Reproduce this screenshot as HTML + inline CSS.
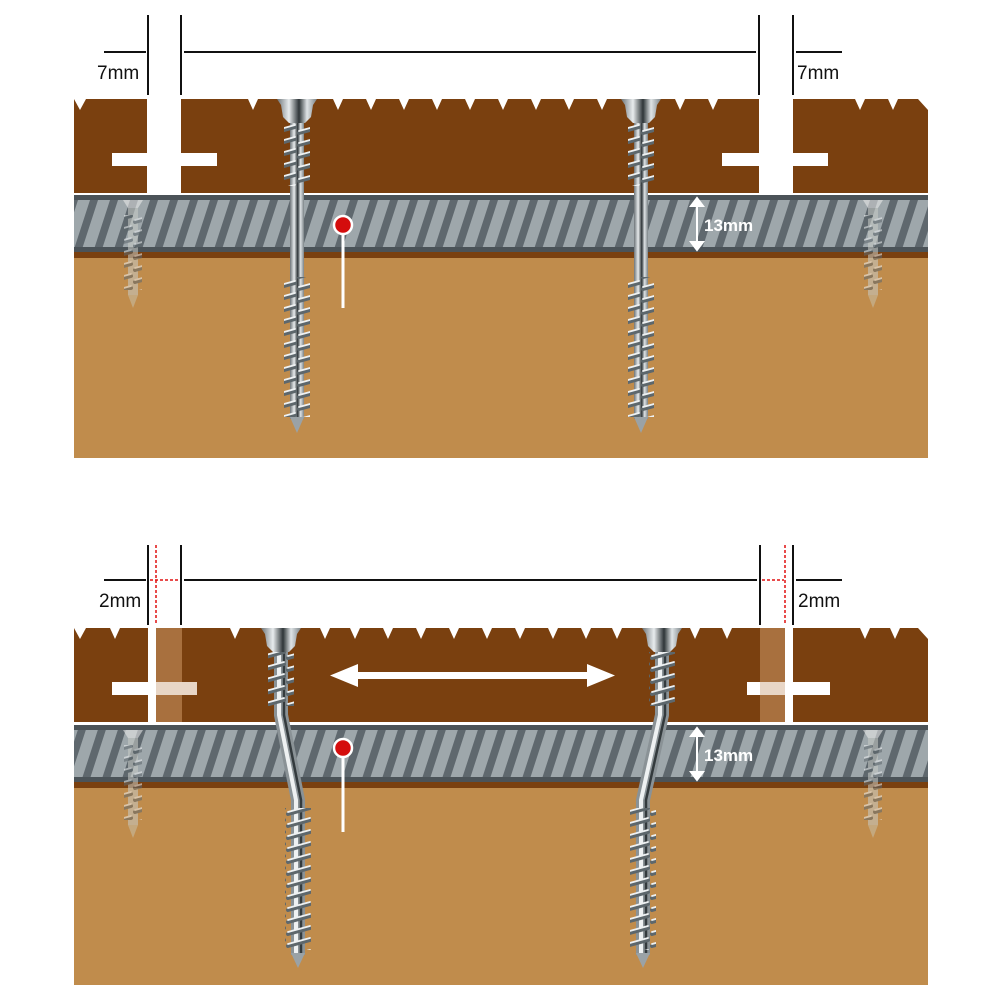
<!DOCTYPE html>
<html><head><meta charset="utf-8"><style>html,body{margin:0;padding:0;background:#fff}svg{display:block}</style></head><body>
<svg width="1000" height="1000" viewBox="0 0 1000 1000" xmlns="http://www.w3.org/2000/svg" font-family="Liberation Sans, sans-serif">
<defs>
<pattern id="str" width="20" height="60" patternUnits="userSpaceOnUse" patternTransform="skewX(-18)">
<rect width="20" height="60" fill="#5f686e"/><rect x="3" width="12" height="60" fill="#9ea7ab"/>
</pattern>
<linearGradient id="sil" x1="0" x2="1" y1="0" y2="0">
<stop offset="0" stop-color="#6d7478"/><stop offset=".3" stop-color="#e8ecee"/><stop offset=".55" stop-color="#2e3538"/><stop offset=".75" stop-color="#dfe4e6"/><stop offset="1" stop-color="#7b8387"/>
</linearGradient>
<pattern id="thr" width="26" height="12" patternUnits="userSpaceOnUse">
<path d="M2 10 L24 4" stroke="#5d676c" stroke-width="4" stroke-linecap="round"/><path d="M2 8 L24 2" stroke="#eef1f2" stroke-width="1.8" stroke-linecap="round"/>
</pattern>
<g id="screwS">
<rect x="-7" y="20" width="14" height="300" fill="url(#sil)"/>
<rect x="-13" y="25" width="26" height="62" fill="url(#thr)"/>
<rect x="-13" y="178" width="26" height="140" fill="url(#thr)"/>
<path d="M-7 318 L7 318 L0 334 Z" fill="#9aa2a6"/>
<path d="M-20 0 H20 L16 6 L14 18 L8 24 H-8 L-14 18 L-16 6 Z" fill="url(#sil)"/>
</g>
<g id="small" opacity="0.55">
<rect x="-5" y="0" width="10" height="95" fill="#c9ccc8"/>
<rect x="-9" y="15" width="18" height="75" fill="url(#thr)"/>
<path d="M-10 0 H10 L5 8 H-5Z" fill="#eee"/>
<path d="M-5 95 H5 L0 108Z" fill="#c9c0a8"/>
</g>
</defs>

<!-- TOP PANEL -->
<rect x="74" y="258" width="854" height="200" fill="#c08c4c"/>
<rect x="74" y="252" width="854" height="6" fill="#7a400f"/>
<rect x="74" y="195" width="854" height="57" fill="#4b5358"/>
<rect x="74" y="200" width="854" height="47" fill="url(#str)"/>
<rect x="74" y="99" width="854" height="94" fill="#7a400f"/>
<rect x="147" y="99" width="34" height="94" fill="#fff"/>
<rect x="759" y="99" width="34" height="94" fill="#fff"/>
<rect x="112" y="153" width="105" height="13" fill="#fff"/>
<rect x="722" y="153" width="106" height="13" fill="#fff"/>
<g fill="#fff">
<path d="M74 99 H86 L80 110Z"/><path d="M248 99 H258 L253 110Z"/>
<path d="M333 99 H343 L338 110Z"/><path d="M366 99 H376 L371 110Z"/><path d="M399 99 H409 L404 110Z"/><path d="M432 99 H442 L437 110Z"/><path d="M465 99 H475 L470 110Z"/><path d="M498 99 H508 L503 110Z"/><path d="M531 99 H541 L536 110Z"/><path d="M564 99 H574 L569 110Z"/><path d="M597 99 H607 L602 110Z"/><path d="M675 99 H685 L680 110Z"/><path d="M708 99 H718 L713 110Z"/><path d="M855 99 H865 L860 110Z"/><path d="M888 99 H898 L893 110Z"/><path d="M918 99 H928 V110Z"/>
</g>
<use href="#small" x="133" y="200"/>
<use href="#small" x="873" y="200"/>
<use href="#screwS" x="297" y="99"/>
<use href="#screwS" x="641" y="99"/>
<line x1="343" y1="225" x2="343" y2="308" stroke="#fff" stroke-width="3"/>
<circle cx="343" cy="225" r="9" fill="#d40d0d" stroke="#fff" stroke-width="2.5"/>
<g stroke="#fff" stroke-width="2" fill="#fff"><line x1="697" y1="203" x2="697" y2="245"/><path d="M691 206 L697 198 L703 206Z"/><path d="M691 242 L697 250 L703 242Z"/></g>
<text x="704" y="231" fill="#fff" font-size="17" font-weight="bold">13mm</text>
<g stroke="#111" stroke-width="2">
<line x1="148" y1="15" x2="148" y2="95"/><line x1="181" y1="15" x2="181" y2="95"/>
<line x1="759" y1="15" x2="759" y2="95"/><line x1="793" y1="15" x2="793" y2="95"/>
<line x1="104" y1="52" x2="146" y2="52"/><line x1="184" y1="52" x2="756" y2="52"/><line x1="796" y1="52" x2="842" y2="52"/>
</g>
<text x="97" y="79" font-size="19" fill="#111">7mm</text>
<text x="797" y="79" font-size="19" fill="#111">7mm</text>

<!-- BOTTOM PANEL -->
<rect x="74" y="788" width="854" height="197" fill="#c08c4c"/>
<rect x="74" y="782" width="854" height="6" fill="#7a400f"/>
<rect x="74" y="725" width="854" height="57" fill="#4b5358"/>
<rect x="74" y="730" width="854" height="47" fill="url(#str)"/>
<rect x="74" y="628" width="854" height="94" fill="#7a400f"/>
<rect x="148" y="628" width="8" height="94" fill="#fff"/>
<rect x="156" y="628" width="26" height="94" fill="#a8703e"/>
<rect x="760" y="628" width="25" height="94" fill="#a8703e"/>
<rect x="785" y="628" width="8" height="94" fill="#fff"/>
<rect x="112" y="682" width="44" height="13" fill="#fff"/>
<rect x="156" y="682" width="41" height="13" fill="#e8d6c6"/>
<rect x="747" y="682" width="13" height="13" fill="#fff"/>
<rect x="760" y="682" width="25" height="13" fill="#e8d6c6"/>
<rect x="785" y="682" width="45" height="13" fill="#fff"/>
<g fill="#fff">
<path d="M74 628 H86 L80 639Z"/><path d="M110 628 H120 L115 639Z"/><path d="M230 628 H240 L235 639Z"/>
<path d="M320 628 H330 L325 639Z"/><path d="M350 628 H360 L355 639Z"/><path d="M383 628 H393 L388 639Z"/><path d="M416 628 H426 L421 639Z"/><path d="M449 628 H459 L454 639Z"/><path d="M482 628 H492 L487 639Z"/><path d="M515 628 H525 L520 639Z"/><path d="M548 628 H558 L553 639Z"/><path d="M581 628 H591 L586 639Z"/><path d="M612 628 H622 L617 639Z"/><path d="M690 628 H700 L695 639Z"/><path d="M722 628 H732 L727 639Z"/><path d="M860 628 H870 L865 639Z"/><path d="M890 628 H900 L895 639Z"/><path d="M918 628 H928 V639Z"/>
</g>
<use href="#small" x="133" y="730"/>
<use href="#small" x="873" y="730"/>
<!-- bent screws -->
<g>
<path d="M281 648 L281 715 L298 800 L298 955" fill="none" stroke="#8a9296" stroke-width="14" stroke-linejoin="round"/>
<path d="M279 648 L279 715 L296 800 L296 955" fill="none" stroke="#eef1f2" stroke-width="4" stroke-linejoin="round"/>
<path d="M284 648 L284 715 L301 800 L301 955" fill="none" stroke="#333a3d" stroke-width="2.5" stroke-linejoin="round"/>
<rect x="268" y="652" width="26" height="54" fill="url(#thr)"/>
<rect x="285" y="808" width="26" height="142" fill="url(#thr)"/>
<path d="M291 953 H305 L298 968Z" fill="#9aa2a6"/>
<path d="M261 628 H301 L297 634 L295 646 L289 652 H273 L267 646 L265 634Z" fill="url(#sil)"/>
</g>
<g>
<path d="M662 648 L662 715 L643 800 L643 955" fill="none" stroke="#8a9296" stroke-width="14" stroke-linejoin="round"/>
<path d="M660 648 L660 715 L641 800 L641 955" fill="none" stroke="#eef1f2" stroke-width="4" stroke-linejoin="round"/>
<path d="M665 648 L665 715 L646 800 L646 955" fill="none" stroke="#333a3d" stroke-width="2.5" stroke-linejoin="round"/>
<rect x="649" y="652" width="26" height="54" fill="url(#thr)"/>
<rect x="630" y="808" width="26" height="142" fill="url(#thr)"/>
<path d="M636 953 H650 L643 968Z" fill="#9aa2a6"/>
<path d="M642 628 H682 L678 634 L676 646 L670 652 H654 L648 646 L646 634Z" fill="url(#sil)"/>
</g>
<g fill="#fff"><rect x="350" y="672" width="245" height="7"/><path d="M330 675.5 L358 664 L358 687Z"/><path d="M615 675.5 L587 664 L587 687Z"/></g>
<line x1="343" y1="748" x2="343" y2="832" stroke="#fff" stroke-width="3"/>
<circle cx="343" cy="748" r="9" fill="#d40d0d" stroke="#fff" stroke-width="2.5"/>
<g stroke="#fff" stroke-width="2" fill="#fff"><line x1="697" y1="733" x2="697" y2="775"/><path d="M691 736 L697 728 L703 736Z"/><path d="M691 772 L697 780 L703 772Z"/></g>
<text x="704" y="761" fill="#fff" font-size="17" font-weight="bold">13mm</text>
<g stroke="#111" stroke-width="2">
<line x1="148" y1="545" x2="148" y2="625"/><line x1="181" y1="545" x2="181" y2="625"/>
<line x1="760" y1="545" x2="760" y2="625"/><line x1="793" y1="545" x2="793" y2="625"/>
<line x1="104" y1="580" x2="146" y2="580"/><line x1="184" y1="580" x2="757" y2="580"/><line x1="796" y1="580" x2="842" y2="580"/>
</g>
<g stroke="#e01010" stroke-width="1.5" stroke-dasharray="3,2">
<line x1="156" y1="545" x2="156" y2="625"/><line x1="150" y1="580" x2="180" y2="580"/>
<line x1="785" y1="545" x2="785" y2="625"/><line x1="762" y1="580" x2="784" y2="580"/>
</g>
<text x="99" y="607" font-size="19" fill="#111">2mm</text>
<text x="798" y="607" font-size="19" fill="#111">2mm</text>
</svg>
</body></html>
